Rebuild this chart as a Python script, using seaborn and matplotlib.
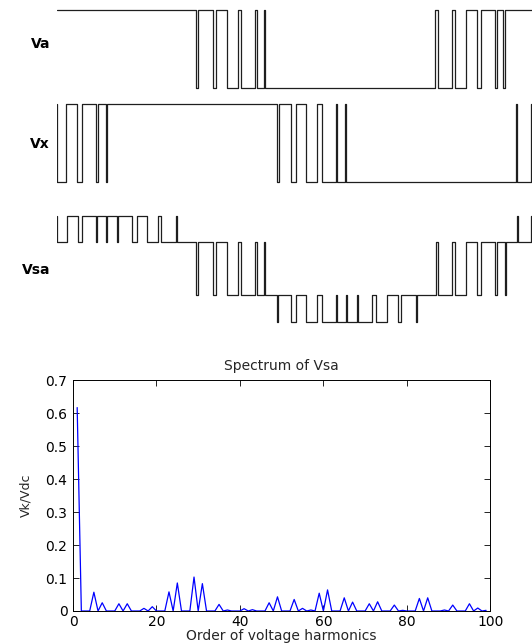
import matplotlib
matplotlib.use("Agg")
import matplotlib.pyplot as plt
import numpy as np
import pandas as pd
import seaborn as sns

# ---------------- data ----------------
# switching instants (electrical degrees) and levels after each instant
va_time = [0, 104.25, 106.2, 117.45, 119.25, 127.5, 135.75, 138.2, 148.5, 150.0,
           155.7, 156.45, 283.7, 285.75, 296.25, 298.7, 307.0, 315.45, 318.0,
           328.5, 330.45, 335.0, 336.2, 356.5]
va_level = [1, 0, 1, 0, 1, 0, 1, 0, 1, 0,
            1, 0, 1, 0, 1, 0, 1, 0, 1,
            0, 1, 0, 1, 1]

vx_time = [0, 0.3, 6.975, 15.45, 19.2, 29.25, 30.75, 37.0, 37.5, 165.0, 166.95,
           175.7, 179.5, 186.75, 195.0, 198.75, 209.25, 210.2, 216.2, 217.0,
           344.5, 345.45, 355.5, 356.5]
vx_level = [1, 0, 1, 0, 1, 0, 1, 0, 1, 0, 1,
            0, 1, 0, 1, 0, 1, 0, 1, 0,
            1, 0, 1, 1]

vsa_time = [0, 0.2, 7.5, 15.75, 19.2, 29.25, 30.2, 37.0, 37.75, 45.0, 45.75,
            56.25, 60.0, 67.5, 76.2, 78.2, 89.5, 90.2, 104.25, 105.75, 117.0,
            119.25, 127.5, 135.75, 138.2, 148.5, 150.0, 155.7, 156.45, 165.0,
            165.75, 175.5, 179.5, 187.0, 195.0, 198.75, 209.25, 210.2, 217.0,
            217.7, 225.0, 225.75, 236.25, 239.5, 247.5, 255.75, 258.2, 269.5,
            270.2, 284.25, 285.75, 296.25, 298.7, 307.0, 315.45, 318.0, 328.5,
            330.45, 336.2, 337.0, 345.0, 345.75, 355.5, 356.5]
A, B, C, D = 2/3, 1/3, -1/3, -2/3
vsa_level = [A, B, A, B, A, B, A, B, A, B, A,
             B, A, B, A, B, A, B, C, B, C,
             B, C, B, C, B, C, B, C, D,
             C, D, C, D, C, D, C, D, C,
             D, C, D, C, D, C, D, C, D,
             C, B, C, B, C, B, C, B, C,
             B, C, B, A, B, A, A]

harm_order = list(range(1, 100))
vk_vdc = [0.617, 0, 0, 0, 0.057, 0, 0.025, 0, 0, 0,
          0.022, 0, 0.022, 0, 0, 0, 0.008, 0, 0.013, 0,
          0, 0, 0.058, 0, 0.085, 0, 0, 0, 0.103, 0,
          0.083, 0, 0, 0, 0.020, 0, 0.003, 0, 0, 0,
          0.007, 0, 0.004, 0, 0, 0, 0.025, 0, 0.043, 0,
          0, 0, 0.035, 0, 0.008, 0, 0.003, 0, 0.054, 0,
          0.064, 0, 0, 0, 0.040, 0, 0.027, 0, 0, 0,
          0.022, 0, 0.028, 0, 0, 0, 0.018, 0, 0.002, 0,
          0, 0, 0.038, 0, 0.040, 0, 0, 0, 0.003, 0,
          0.018, 0, 0, 0, 0.022, 0, 0.009, 0, 0.002]

x_ticks = [0, 20, 40, 60, 80, 100]
y_ticks = [0, 0.1, 0.2, 0.3, 0.4, 0.5, 0.6, 0.7]
y_tick_labels = ["0", "0.1", "0.2", "0.3", "0.4", "0.5", "0.6", "0.7"]
wave_names = ["Va", "Vx", "Vsa"]

# ---------------- style ----------------
sns.set_theme(style="white")
plt.rcParams["font.family"] = ["DejaVu Sans"]
plt.rcParams["axes.edgecolor"] = "black"

W, H = 532, 644
fig = plt.figure(figsize=(W / 100, H / 100), dpi=100)
fig.patch.set_facecolor("white")


def ax_px(left, top, right, bottom):
    return fig.add_axes([left / W, 1 - bottom / H, (right - left) / W, (bottom - top) / H])


X0, X1 = 56.7, 532.0
T_END = 356.5

ax_va = ax_px(X0, 10 - 7.8, X1, 88 + 7.8)
ax_vx = ax_px(X0, 104 - 7.77, X1, 181.7 + 7.77)
ax_vsa = ax_px(X0, 205.4, X1, 332.2)

wave_color = "#1e1e1e"
for ax, t, v, lim in [(ax_va, va_time, va_level, (-0.1, 1.1)),
                      (ax_vx, vx_time, vx_level, (-0.1, 1.1)),
                      (ax_vsa, vsa_time, vsa_level, (-0.8, 0.8))]:
    df = pd.DataFrame({"t": t, "v": v})
    sns.lineplot(data=df, x="t", y="v", ax=ax, estimator=None, sort=False,
                 drawstyle="steps-post", color=wave_color, lw=0.9)
    ax.set_xlim(0, T_END)
    ax.set_ylim(*lim)
    ax.axis("off")

for name, ypix in zip(wave_names, [44, 144, 270]):
    fig.text(50 / W, 1 - ypix / H, name, ha="right", va="center",
             fontsize=10, fontweight="bold", color="black")

# ---------------- spectrum ----------------
AX_TOP, AX_BOT = 380.2, 611.0
ax2 = ax_px(73, AX_TOP, 490.3, AX_BOT)
spec = pd.DataFrame({"k": harm_order, "v": vk_vdc})
sns.lineplot(data=spec, x="k", y="v", ax=ax2, estimator=None, sort=False,
             color="#0000ff", lw=0.9)
ax2.set_xlim(0, 100)
ax2.set_ylim(0, 0.7)
ax2.set_xticks(x_ticks)
ax2.set_xticklabels([str(x) for x in x_ticks])
ax2.set_yticks(y_ticks)
ax2.set_yticklabels(y_tick_labels)
ax2.tick_params(direction="in", top=True, right=True, bottom=True, left=True,
                length=4, width=0.6, labelsize=10, pad=4, colors="black")
ax2.tick_params(axis="x", pad=3)
for s in ax2.spines.values():
    s.set_visible(True)
    s.set_linewidth(0.7)
    s.set_color("black")
ax_h = AX_BOT - AX_TOP
ax2.set_title("Spectrum of Vsa", fontsize=10, pad=7)
ax2.set_xlabel("Order of voltage harmonics", fontsize=10, va="center")
ax2.xaxis.set_label_coords(0.5, -(636 - AX_BOT) / ax_h)
ax2.set_ylabel("Vk/Vdc", fontsize=9, va="center")
ax2.yaxis.set_label_coords(-(73 - 26) / (490.3 - 73), 0.5)
ax2.set_facecolor("white")

fig.savefig("out.png", dpi=100, facecolor="white")
